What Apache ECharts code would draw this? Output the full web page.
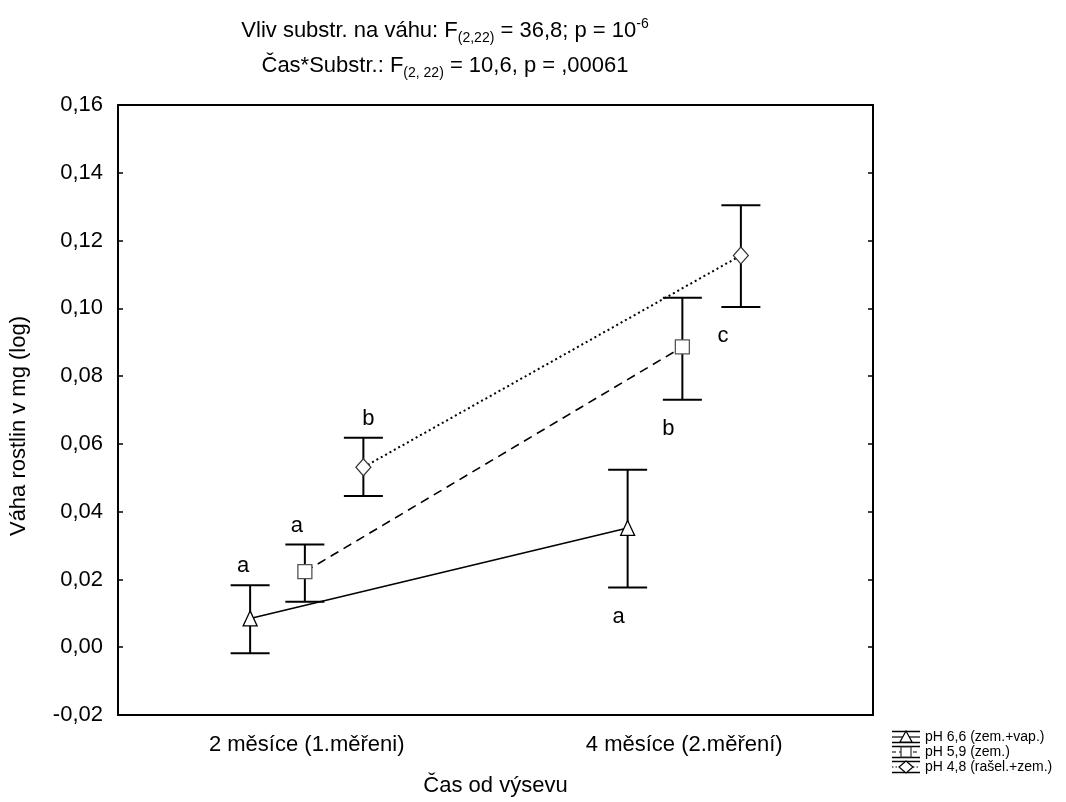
<!DOCTYPE html>
<html>
<head>
<meta charset="utf-8">
<script src="https://cdn.jsdelivr.net/npm/echarts@6/dist/echarts.min.js"></script>
<style>
  html, body { margin: 0; padding: 0; background: #fff; }
  #chart { width: 1066px; height: 802px; }
</style>
</head>
<body>
<div id="chart"></div>
<script>
// data
const categories = ["2 měsíce (1.měřeni)", "4 měsíce (2.měření)"];
const seriesNames = ["pH 6,6 (zem.+vap.)", "pH 5,9 (zem.)", "pH 4,8 (rašel.+zem.)"];

const triMean = [0.0085, 0.0352];
const triLow = [-0.0018, 0.0176];
const triHigh = [0.0183, 0.0524];

const sqMean = [0.0223, 0.0886];
const sqLow = [0.0134, 0.073];
const sqHigh = [0.0303, 0.1031];

const diaMean = [0.0531, 0.1156];
const diaLow = [0.0446, 0.1004];
const diaHigh = [0.0618, 0.1304];

const triLetters = ["a", "a"];
const sqLetters = ["a", "b"];
const diaLetters = ["b", "c"];

const FONT = "Liberation Sans, Arial, sans-serif";

const chart = echarts.init(document.getElementById("chart"));

function meanPoints(mean, off) {
  return mean.map((v, i) => [i + off, v]);
}
function barPoints(low, high, letters, off) {
  return low.map((v, i) => [i + off, v, high[i], letters[i]]);
}

// error bar with caps and the group letter
function renderBar(dxLetters) {
  return function (params, api) {
    const x = api.value(0);
    const pLo = api.coord([x, api.value(1)]);
    const pHi = api.coord([x, api.value(2)]);
    const idx = params.dataIndex;
    const letter = api.value(3);
    const st = { stroke: "#000", lineWidth: 2 };
    const ty = idx === 0 ? pHi[1] - 19 : pLo[1] + 29;
    return {
      type: "group",
      children: [
        { type: "line", shape: { x1: pLo[0], y1: pLo[1], x2: pHi[0], y2: pHi[1] }, style: st },
        { type: "line", shape: { x1: pHi[0] - 19.5, y1: pHi[1], x2: pHi[0] + 19.5, y2: pHi[1] }, style: st },
        { type: "line", shape: { x1: pLo[0] - 19.5, y1: pLo[1], x2: pLo[0] + 19.5, y2: pLo[1] }, style: st },
        {
          type: "text",
          x: pHi[0] + dxLetters[idx],
          y: ty,
          style: {
            text: letter, fill: "#000", font: "22px " + FONT,
            align: "center", verticalAlign: "middle"
          }
        }
      ]
    };
  };
}

const lineBase = {
  type: "line",
  xAxisIndex: 1,
  symbolKeepAspect: true,
  z: 5,
  itemStyle: { color: "#fff", borderColor: "#000", borderWidth: 1.3 },
  emphasis: { disabled: true }
};

const titleRich = {
  n: { fontFamily: FONT, fontSize: 22, fontWeight: "normal", color: "#000", lineHeight: 28 },
  sub: { fontFamily: FONT, fontSize: 14, fontWeight: "normal", color: "#000", lineHeight: 14, verticalAlign: "bottom", padding: [11, 0, 0, 0] },
  sup: { fontFamily: FONT, fontSize: 14, fontWeight: "normal", color: "#000", lineHeight: 14, verticalAlign: "top", padding: [0, 0, 11, 0] }
};

const option = {
  animation: false,
  backgroundColor: "#fff",
  title: [
    {
      left: 440, top: 12, textAlign: "center",
      text: "{n|Vliv substr. na váhu: F}{sub|(2,22)}{n| = 36,8; p = 10}{sup|-6}",
      textStyle: { rich: titleRich }
    },
    {
      left: 440, top: 47, textAlign: "center",
      text: "{n|Čas*Substr.: F}{sub|(2, 22)}{n| = 10,6, p = ,00061}",
      textStyle: { rich: titleRich }
    }
  ],
  grid: { left: 117, right: 193, top: 105, bottom: 83 },
  xAxis: [
    {
      type: "category",
      data: categories,
      boundaryGap: true,
      name: "Čas od výsevu",
      nameLocation: "middle",
      nameGap: 60,
      nameTextStyle: { fontFamily: FONT, fontSize: 22, color: "#000" },
      axisLine: { onZero: false, lineStyle: { color: "#000", width: 2 } },
      axisTick: { alignWithLabel: true, inside: true, length: 5, lineStyle: { color: "#000", width: 1.5 } },
      axisLabel: { fontFamily: FONT, fontSize: 22, color: "#000", margin: 19 },
      splitLine: { show: false }
    },
    {
      type: "value",
      min: -0.5,
      max: 1.5,
      position: "top",
      axisLine: { show: true, onZero: false, lineStyle: { color: "#000", width: 2 } },
      axisTick: { show: false },
      axisLabel: { show: false },
      splitLine: { show: false }
    }
  ],
  yAxis: [
    {
      type: "value",
      min: -0.02,
      max: 0.16,
      interval: 0.02,
      name: "Váha rostlin v mg (log)",
      nameLocation: "middle",
      nameGap: 88,
      nameTextStyle: { fontFamily: FONT, fontSize: 22, color: "#000", padding: [0, 32, 0, 0] },
      axisLine: { show: true, onZero: false, lineStyle: { color: "#000", width: 2 } },
      axisTick: { show: true, inside: true, length: 5, lineStyle: { color: "#000", width: 1.5 } },
      axisLabel: {
        fontFamily: FONT, fontSize: 22, color: "#000", margin: 15,
        formatter: v => v.toFixed(2).replace(".", ",")
      },
      splitLine: { show: false }
    },
    {
      type: "value",
      min: -0.02,
      max: 0.16,
      interval: 0.02,
      position: "right",
      axisLine: { show: true, onZero: false, lineStyle: { color: "#000", width: 2 } },
      axisTick: { show: true, inside: true, length: 5, lineStyle: { color: "#000", width: 1.5 } },
      axisLabel: { show: false },
      splitLine: { show: false }
    }
  ],
  series: [
    {
      type: "custom", xAxisIndex: 1, z: 3,
      renderItem: renderBar([-7, -9]),
      data: barPoints(triLow, triHigh, triLetters, -0.15)
    },
    {
      type: "custom", xAxisIndex: 1, z: 3,
      renderItem: renderBar([-8, -14]),
      data: barPoints(sqLow, sqHigh, sqLetters, -0.005)
    },
    {
      type: "custom", xAxisIndex: 1, z: 3,
      renderItem: renderBar([5, -18]),
      data: barPoints(diaLow, diaHigh, diaLetters, 0.15)
    },
    Object.assign({}, lineBase, {
      name: seriesNames[0],
      data: meanPoints(triMean, -0.15),
      symbol: "triangle", symbolSize: [14, 15],
      lineStyle: { color: "#000", width: 1.6, type: "solid" }
    }),
    Object.assign({}, lineBase, {
      name: seriesNames[1],
      data: meanPoints(sqMean, -0.005),
      symbol: "rect", symbolSize: 14,
      itemStyle: { color: "#fff", borderColor: "#555", borderWidth: 1.3 },
      lineStyle: { color: "#000", width: 1.6, type: [9, 6] }
    }),
    Object.assign({}, lineBase, {
      name: seriesNames[2],
      data: meanPoints(diaMean, 0.15),
      symbol: "diamond", symbolSize: [15, 17],
      itemStyle: { color: "#fff", borderColor: "#333", borderWidth: 1.2 },
      lineStyle: { color: "#000", width: 2, type: [2, 3] }
    })
  ],
  graphic: []
};

// legend drawn as small error-bar icons
const legendRows = [737, 752, 767];
const legendDash = [null, [4, 3], [1.5, 2]];
legendRows.forEach((y, i) => {
  const st = { stroke: "#000", lineWidth: 1.5 };
  const cx = 906;
  let marker;
  if (i === 0) {
    marker = { type: "polygon", shape: { points: [[cx, y - 6], [cx - 6, y + 5], [cx + 6, y + 5]] }, style: { fill: "#fff", stroke: "#000", lineWidth: 1.2 } };
  } else if (i === 1) {
    marker = { type: "rect", shape: { x: cx - 5, y: y - 5, width: 10, height: 10 }, style: { fill: "#fff", stroke: "#333", lineWidth: 1.2 } };
  } else {
    marker = { type: "polygon", shape: { points: [[cx, y - 6], [cx + 7, y], [cx, y + 6], [cx - 7, y]] }, style: { fill: "#fff", stroke: "#000", lineWidth: 1.2 } };
  }
  option.graphic.push({
    type: "group",
    children: [
      { type: "line", shape: { x1: 892, y1: y - 5.5, x2: 920, y2: y - 5.5 }, style: st },
      { type: "line", shape: { x1: 892, y1: y + 5.5, x2: 920, y2: y + 5.5 }, style: st },
      { type: "line", shape: { x1: cx, y1: y - 5.5, x2: cx, y2: y + 5.5 }, style: st },
      { type: "line", shape: { x1: 892, y1: y, x2: 920, y2: y }, style: { stroke: "#000", lineWidth: 1.2, lineDash: legendDash[i] } },
      marker,
      {
        type: "text", x: 925, y: y,
        style: { text: seriesNames[i], fill: "#000", font: "14px " + FONT, verticalAlign: "middle" }
      }
    ]
  });
});

chart.setOption(option);
</script>
</body>
</html>
